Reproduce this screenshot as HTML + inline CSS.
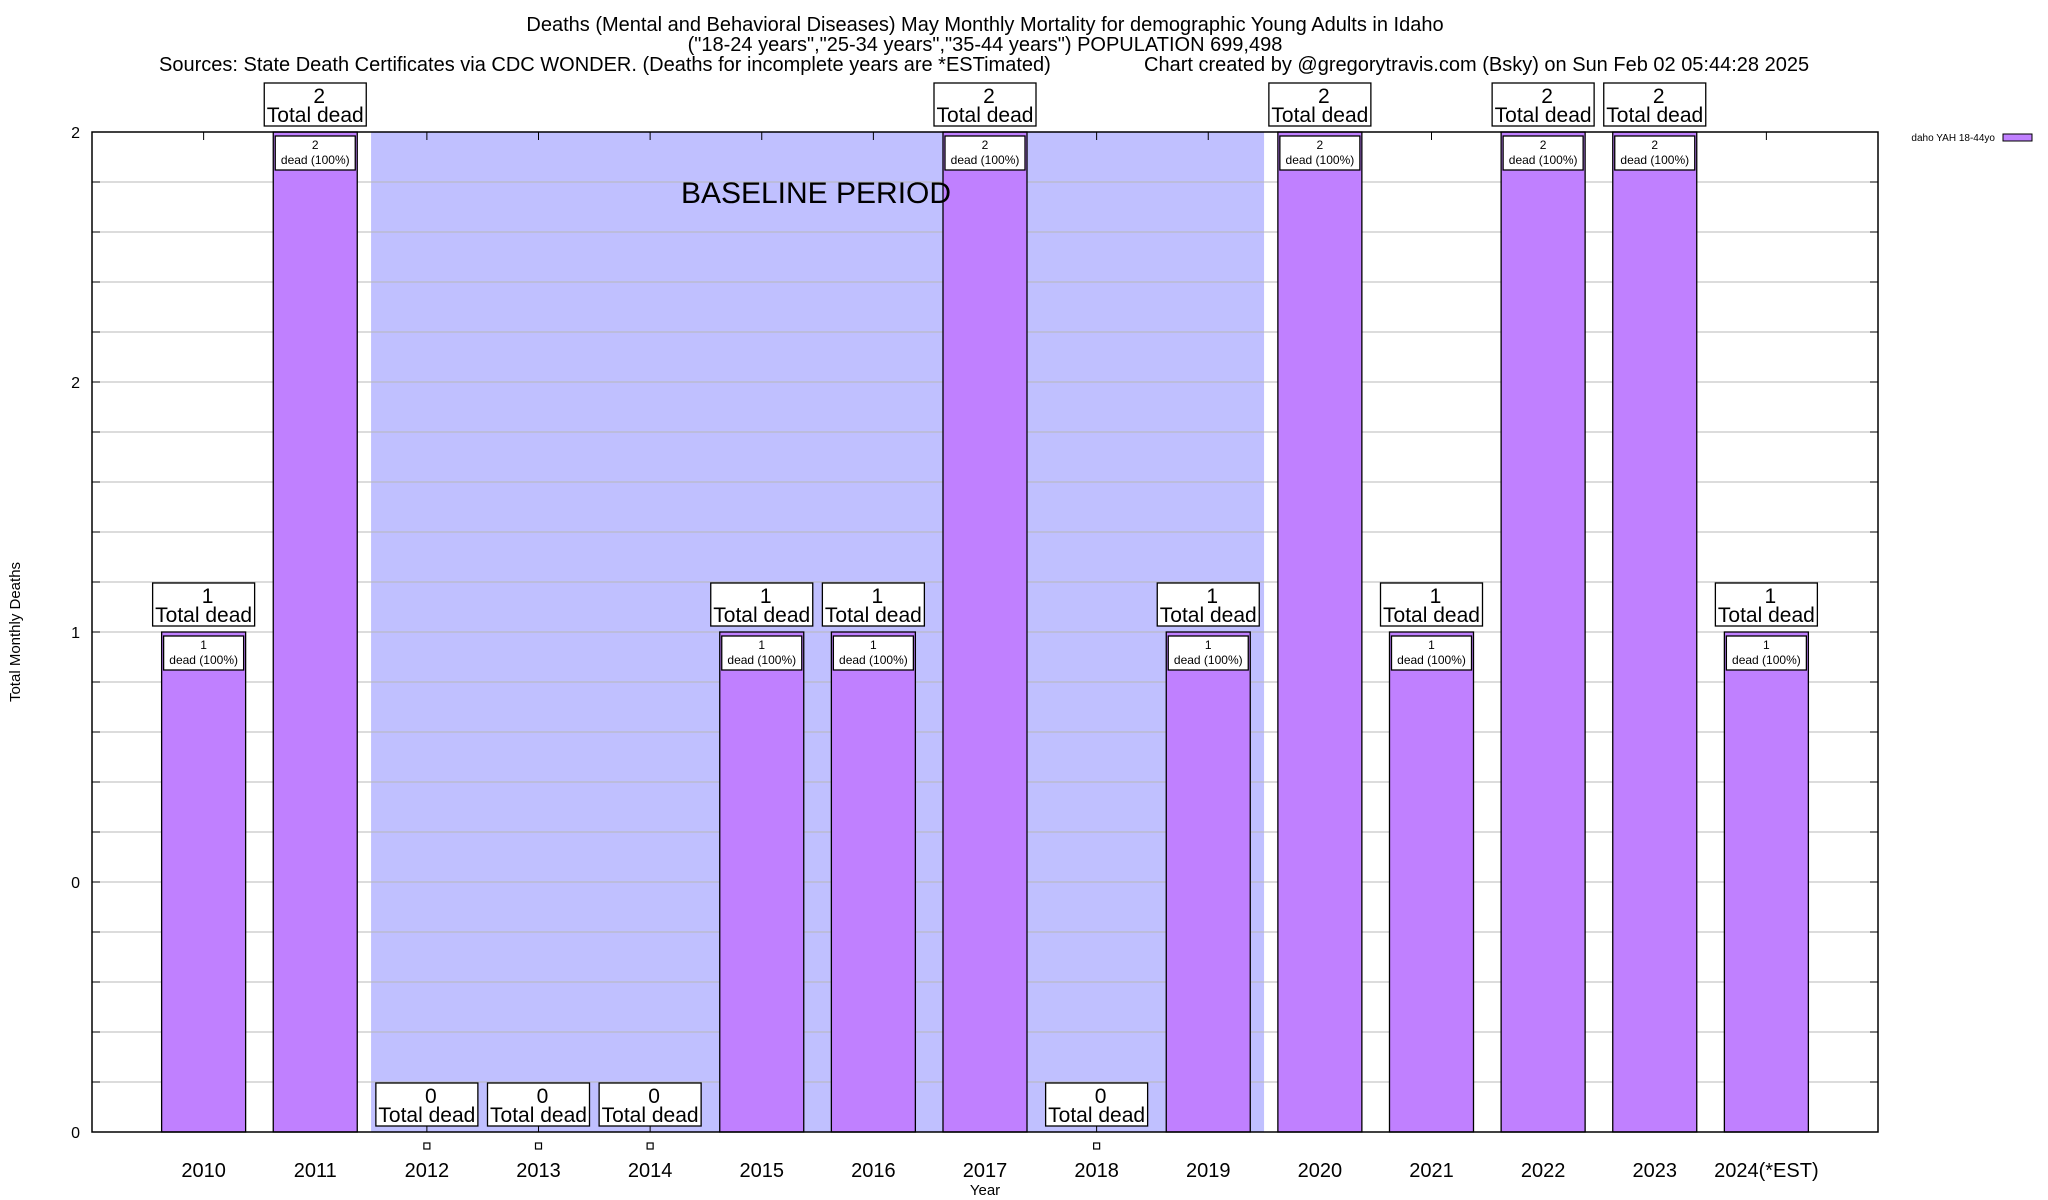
<!DOCTYPE html>
<html><head><meta charset="utf-8">
<style>
html,body{margin:0;padding:0;background:#fff;}
svg{display:block;font-family:"Liberation Sans",Arial,sans-serif;}
</style></head>
<body>
<svg id="chart" width="2048" height="1200" viewBox="0 0 2048 1200">
<g id="title">
<text x="985" y="31" font-size="20" text-anchor="middle">Deaths (Mental and Behavioral Diseases) May Monthly Mortality for demographic Young Adults in Idaho</text>
<text x="985" y="51" font-size="20" text-anchor="middle">("18-24 years","25-34 years","35-44 years") POPULATION 699,498</text>
<text x="159" y="71" font-size="20">Sources: State Death Certificates via CDC WONDER. (Deaths for incomplete years are *ESTimated)</text>
<text x="1144" y="71" font-size="20">Chart created by @gregorytravis.com (Bsky) on Sun Feb 02 05:44:28 2025</text>
</g>
<g id="plot"></g>
<text transform="translate(20,632) rotate(-90)" font-size="15" text-anchor="middle">Total Monthly Deaths</text>
<text x="985" y="1195" font-size="15" text-anchor="middle">Year</text>
<g>
<text x="1995" y="141" font-size="10" text-anchor="end">daho YAH 18-44yo</text>
<rect x="2003" y="134" width="29" height="7" fill="#c080ff" stroke="#000" stroke-width="1"/>
</g>
</svg>
<script>
const categories = ["2010","2011","2012","2013","2014","2015","2016","2017","2018","2019","2020","2021","2022","2023","2024(*EST)"];
const deaths = [1,2,0,0,0,1,1,2,0,1,2,1,2,2,1];
const yTickValues = [0,0.5,1,1.5,2];
const yTickLabels = ["0","0","1","2","2"];
const baselineStart = 1.5, baselineEnd = 9.5;

const NS="http://www.w3.org/2000/svg";
const L=92,R=1878,T=132,B=1132;
const yMax=2;
const slot=(R-L)/(categories.length+1);
const xs=i=>L+(i+1)*slot;
const ys=v=>B-(v/yMax)*(B-T);
const g=document.getElementById('plot');
function mk(tag,attrs,parent){const e=document.createElementNS(NS,tag);for(const k in attrs)e.setAttribute(k,attrs[k]);(parent||g).appendChild(e);return e;}

// baseline shading
const sh=mk('rect',{x:xs(baselineStart),y:T,width:xs(baselineEnd)-xs(baselineStart),height:B-T,fill:'#c0c0ff'});



// grid
for(let k=0;k<=20;k++){
  const v=k*0.1, y=ys(v);
  if(k>0&&k<20){const gl=mk('line',{x1:L,x2:R,y1:y,y2:y,stroke:'#b8b8b8','stroke-width':1});
  
  }
  mk('line',{x1:L,x2:L+8,y1:y,y2:y,stroke:'#000'});
  mk('line',{x1:R-8,x2:R,y1:y,y2:y,stroke:'#000'});
}
yTickValues.forEach((v,i)=>{
  const t=mk('text',{x:80,y:ys(v)+6,'font-size':16,'text-anchor':'end'});
  t.textContent=yTickLabels[i];
  
  
});

// bars
categories.forEach((c,i)=>{
  const cx=xs(i), v=deaths[i], bw=84, top=ys(v);
  mk('line',{x1:cx,x2:cx,y1:T,y2:T+8,stroke:'#000'});
  mk('line',{x1:cx,x2:cx,y1:B-8,y2:B,stroke:'#000'});
  if(v>0){
    const b=mk('rect',{x:cx-bw/2,y:top,width:bw,height:B-top,fill:'#c080ff',stroke:'#000','stroke-width':1.3});
    
    
    const ib=mk('rect',{x:cx-40,y:top+4,width:80,height:34,fill:'#fff',stroke:'#000','stroke-width':1.3});
    
    
    const t1=mk('text',{x:cx,y:top+17,'font-size':12,'text-anchor':'middle'});t1.textContent=v;
    
    
    const t2=mk('text',{x:cx,y:top+32,'font-size':12,'text-anchor':'middle'});t2.textContent='dead (100%)';
    
    
  } else {
    const sq=mk('rect',{x:cx-3,y:B+11,width:6,height:6,fill:'#fff',stroke:'#000','stroke-width':1.2});
    
    
  }
  const ob=mk('rect',{x:cx-51,y:top-49,width:102,height:43,fill:'#fff',stroke:'#000','stroke-width':1.3});
  
  
  const o1=mk('text',{x:cx+4,y:top-29,'font-size':21,'text-anchor':'middle'});o1.textContent=v;
  
  
  const o2=mk('text',{x:cx,y:top-10,'font-size':21,'text-anchor':'middle'});o2.textContent='Total dead';
  
  
  const xl=mk('text',{x:cx,y:1177,'font-size':20,'text-anchor':'middle'});xl.textContent=c;
  
  
});
const bt=mk('text',{x:816,y:203,'font-size':30,'text-anchor':'middle'});
bt.textContent='BASELINE PERIOD';


const frame=mk('rect',{x:L,y:T,width:R-L,height:B-T,fill:'none',stroke:'#000','stroke-width':1.5});


</script>
</body></html>
